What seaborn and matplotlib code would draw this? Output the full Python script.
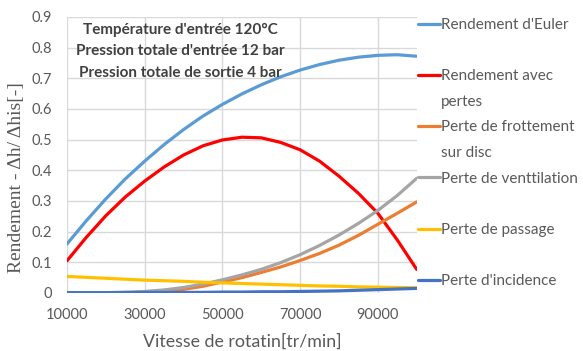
import matplotlib
matplotlib.use("Agg")
import matplotlib.pyplot as plt
from matplotlib.lines import Line2D
import numpy as np
import pandas as pd
import seaborn as sns

# ---- data ----
speed = [10000, 15000, 20000, 25000, 30000, 35000, 40000, 45000, 50000, 55000,
         60000, 65000, 70000, 75000, 80000, 85000, 90000, 95000, 100000]
euler = [0.160, 0.236, 0.307, 0.372, 0.430, 0.484, 0.533, 0.577, 0.615, 0.649,
         0.679, 0.705, 0.727, 0.745, 0.759, 0.769, 0.775, 0.777, 0.772]
avec_pertes = [0.105, 0.182, 0.252, 0.313, 0.365, 0.411, 0.450, 0.480, 0.499, 0.508,
               0.506, 0.491, 0.467, 0.430, 0.381, 0.325, 0.260, 0.173, 0.077]
frottement = [0.000, 0.000, 0.000, 0.001, 0.002, 0.006, 0.012, 0.022, 0.036, 0.050,
              0.067, 0.085, 0.106, 0.129, 0.156, 0.188, 0.224, 0.260, 0.297]
ventilation = [0.000, 0.000, 0.001, 0.003, 0.005, 0.010, 0.018, 0.029, 0.043, 0.059,
               0.077, 0.099, 0.125, 0.155, 0.189, 0.227, 0.269, 0.318, 0.374]
passage = [0.054, 0.051, 0.048, 0.045, 0.042, 0.040, 0.038, 0.035, 0.033, 0.031,
           0.029, 0.027, 0.025, 0.023, 0.022, 0.020, 0.019, 0.018, 0.017]
incidence = [0.001, 0.001, 0.001, 0.001, 0.002, 0.002, 0.002, 0.002, 0.003, 0.003,
             0.004, 0.004, 0.005, 0.006, 0.007, 0.009, 0.011, 0.013, 0.015]

series_names = ["Rendement d'Euler", "Rendement avec\npertes", "Perte de frottement\nsur disc",
                "Perte de venttilation", "Perte de passage", "Perte d'incidence"]
series_values = [euler, avec_pertes, frottement, ventilation, passage, incidence]
colors = ["#5B9BD5", "#FF0000", "#ED7D31", "#A5A5A5", "#FFC000", "#4472C4"]

x_ticks = [10000, 30000, 50000, 70000, 90000]
y_ticks = [0, 0.1, 0.2, 0.3, 0.4, 0.5, 0.6, 0.7, 0.8, 0.9]
y_tick_labels = ["0", "0.1", "0.2", "0.3", "0.4", "0.5", "0.6", "0.7", "0.8", "0.9"]
annotation_lines = ["Température d'entrée 120°C",
                    "Pression totale d'entrée 12 bar",
                    "Pression totale de sortie 4 bar"]

df = pd.concat([pd.DataFrame({"speed": speed, "value": v, "serie": n})
                for n, v in zip(series_names, series_values)], ignore_index=True)

sns.set_theme(style="white")
plt.rcParams['font.family'] = ['Lato', 'DejaVu Sans']

fig = plt.figure(figsize=(5.83, 3.51), dpi=100)
ax = fig.add_axes([67/583, 1-293/351, (416.7-67)/583, (293-17)/351])

sns.lineplot(data=df, x="speed", y="value", hue="serie", hue_order=series_names,
             palette=colors, linewidth=2.3, ax=ax, legend=False, sort=False)

ax.set_xlim(10000, 100000)
ax.set_ylim(0, 0.9)
ax.set_xticks(x_ticks)
ax.set_xticklabels([str(t) for t in x_ticks])
ax.set_yticks(y_ticks)
ax.set_yticklabels(y_tick_labels)
ax.tick_params(axis='both', length=0, labelsize=10.5, labelcolor="#595959")
ax.tick_params(axis='x', pad=11)
ax.tick_params(axis='y', pad=11)
ax.grid(True, color="#D9D9D9", linewidth=1)
for s in ax.spines.values():
    s.set_visible(False)

ax.set_xlabel("Vitesse de rotatin[tr/min]", fontsize=12.8, color="#595959", labelpad=8)
ax.set_ylabel("Rendement - Δh/ Δhis[-]", fontsize=14, color="#595959",
              family=['Liberation Serif', 'DejaVu Serif'])
ax.yaxis.set_label_coords(-0.12, 0.418)

for i, line in enumerate(annotation_lines):
    ypix = [30, 51, 73][i]
    ax.text(0.325, (293 - ypix) / 276, line, transform=ax.transAxes, ha='center',
            va='center', fontsize=11, fontweight='bold', color="#404040")

# legend with Excel-like fixed spacing
handles, labels = [], []
for name, c in zip(series_names, colors):
    parts = name.split("\n")
    handles.append(Line2D([], [], color=c, linewidth=2.3))
    labels.append(parts[0])
    if len(parts) > 1:
        handles.append(Line2D([], [], color='none'))
        labels.append(parts[1])
    elif name != "Perte d'incidence":
        handles.append(Line2D([], [], color='none'))
        labels.append(" ")
leg = fig.legend(handles, labels, loc='upper left', bbox_to_anchor=(418/583, 1-18/351),
                 frameon=False, fontsize=11, handlelength=1.45, handletextpad=0.08,
                 labelspacing=0.76, borderpad=0, borderaxespad=0)
for t in leg.get_texts():
    t.set_color("#595959")

fig.savefig("out.png", dpi=100)
